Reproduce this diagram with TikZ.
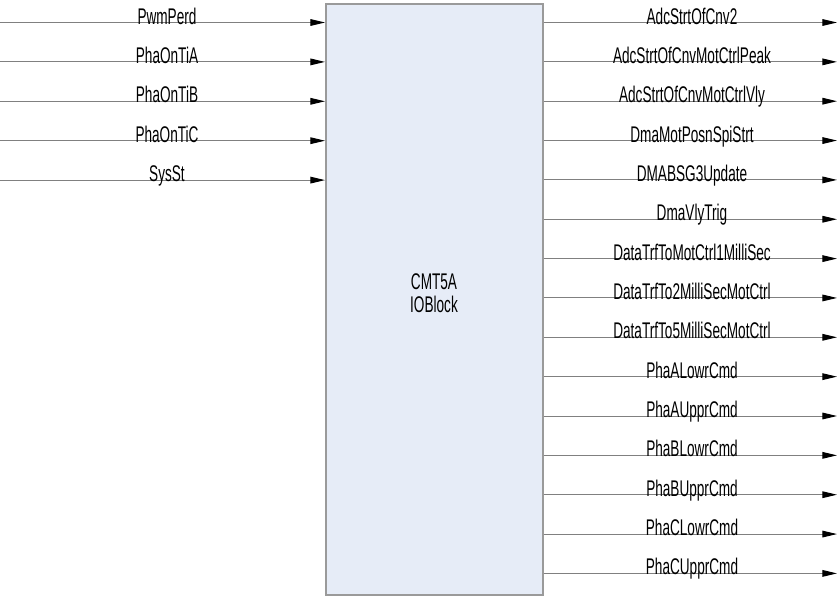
\documentclass[tikz,border=0pt]{standalone}
\usepackage{fontspec}
\setmainfont{Liberation Sans}
\usetikzlibrary{arrows.meta}
\definecolor{boxfill}{HTML}{E6ECF7}
\definecolor{boxline}{HTML}{9A9A9A}
\definecolor{wire}{HTML}{808080}
\newcommand{\sqz}[1]{\scalebox{0.6}[1]{#1}}
\tikzset{
  conn/.style={draw=wire, line width=0.75pt, -{Triangle[length=11pt,width=5pt,fill=black,color=black]}},
  lbl/.style={inner sep=0pt, anchor=base, font=\fontsize{17}{17}\selectfont},
  blk/.style={draw=boxline, fill=boxfill, line width=1.2pt, inner sep=0pt, anchor=north west}
}
\begin{document}
\begin{tikzpicture}[x=0.75pt,y=-0.75pt]
\useasboundingbox (0,0) rectangle (838,596);
\node[blk, minimum width=217*0.75pt, minimum height=591*0.75pt] (box) at (325,3) {};
\node[inner sep=0pt, align=center, font=\fontsize{17}{17}\selectfont] (ct) at (434,293) {\sqz{CMT5A}\\\sqz{IOBlock}};
\foreach \t [count=\i] in {PwmPerd,PhaOnTiA,PhaOnTiB,PhaOnTiC,SysSt}{
  \coordinate (in\i) at (0,{22.5+39.4*(\i-1)});
  \draw[conn] (in\i) -- (box.west |- in\i);
  \node[lbl] (inl\i) at (167,{24+39.4*(\i-1)}) {\sqz{\t}};
}
\foreach \t [count=\i] in {AdcStrtOfCnv2,AdcStrtOfCnvMotCtrlPeak,AdcStrtOfCnvMotCtrlVly,DmaMotPosnSpiStrt,DMABSG3Update,DmaVlyTrig,DataTrfToMotCtrl1MilliSec,DataTrfTo2MilliSecMotCtrl,DataTrfTo5MilliSecMotCtrl,PhaALowrCmd,PhaAUpprCmd,PhaBLowrCmd,PhaBUpprCmd,PhaCLowrCmd,PhaCUpprCmd}{
  \coordinate (out\i) at (837,{22.5+39.35*(\i-1)});
  \draw[conn] (box.east |- out\i) -- (out\i);
  \node[lbl] (outl\i) at (692,{24+39.35*(\i-1)}) {\sqz{\t}};
}
\end{tikzpicture}
\end{document}
